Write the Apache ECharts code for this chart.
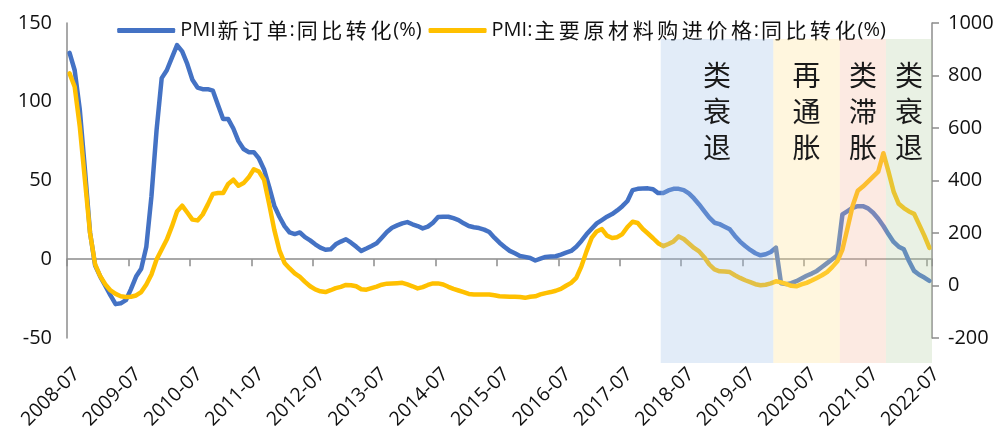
<!DOCTYPE html>
<html>
<head>
<meta charset="utf-8">
<script src="https://cdn.jsdelivr.net/npm/echarts@6/dist/echarts.min.js"></script>
<style>
html,body{margin:0;padding:0;background:#fff;}
#chart{width:1003px;height:432px;}
</style>
</head>
<body>
<div id="chart"></div>
<script>
// ---- data ----
const startYear = 2008, startMonth = 7, monthCount = 169; // 2008-07 .. 2022-07
const categories = [];
for (let k = 0; k < monthCount; k++) {
  const m = startMonth - 1 + k;
  const y = startYear + Math.floor(m / 12);
  const mm = (m % 12) + 1;
  categories.push(y + '-' + (mm < 10 ? '0' + mm : '' + mm));
}

const seriesNames = ['PMI新订单:同比转化(%)', 'PMI:主要原材料购进价格:同比转化(%)'];

// left axis
const newOrdersYoY = [
  131,120,95,57,17,-4,-11,-17,-23,-28.5,-28,-26,-19,-11,-6,8,40,82,115,120,
  128,136,132,124,114,109,108,108,107,98,89,89,83,75,70,68,68,64,57,46,
  34,27,21,17,16,17,14,12,9.5,7.4,6,6.3,9.5,11.2,12.7,10.5,8,5.3,6.8,8.4,
  10.1,13.7,17.3,20,21.5,22.8,23.6,22.2,21.1,19.6,20.7,23.2,26.8,27,27,26.1,24.9,22.8,21.1,20.3,
  19.8,18.8,17.3,13.7,10.5,7.8,5.3,3.8,2.1,1.5,0.8,-0.8,0.4,1.5,1.7,1.9,3,4.2,5.3,8,
  11.6,15.8,19.4,22.8,24.9,27,28.7,31,33.7,37,43.9,44.7,44.9,45,44.5,42,42,43.7,44.7,44.7,
  43.9,41.8,38.6,34.8,30.6,26.4,23.2,22.3,20.7,19,14.8,11.2,8.4,5.9,3.8,2.5,3.2,4.6,7.4,-15.2,
  -15.8,-15.2,-13.9,-12.2,-10.5,-9.1,-7.4,-4.9,-2.5,0,2.5,28.5,30.6,32.7,33.7,33.7,32.3,29.5,25.7,21.1,
  15.8,11,8,6.3,-1.1,-7.4,-9.9,-11.6,-13.7
];

// right axis
const rawPriceYoY = [
  808,757,605,403,200,80,35,4,-19,-32,-41,-44,-43,-38,-25,4,42,99,137,175,
  225,282,304,278,251,248,270,308,349,352,352,387,403,380,390,412,443,434,403,310,
  212,134,86,65,46,33,14,-3,-15,-22,-25,-18,-10,-5,2,1,-3,-14,-16,-10,
  -4,3,7,8,9,10,4,-3,-11,-6,2,8,8,4,-5,-13,-19,-25,-32,-34,
  -34,-34,-34,-37,-41,-42,-43,-43,-44,-47,-43,-41,-34,-29,-25,-20,-13,-1,10,29,
  73,130,181,206,215,190,181,184,196,223,243,238,215,198,180,161,150,158,168,187,
  177,160,143,130,108,80,61,54,53,51,39,29,20,13,5,1,3,8,16,12,
  6,-1,-3,4,10,19,29,39,51,70,92,137,219,304,361,377,396,415,434,504,
  434,358,311,295,282,273,232,190,143
];

const leftAxis = { min: -50, max: 150, interval: 50 };
const rightAxis = { min: -200, max: 1000, interval: 200 };

// phases: start month (inclusive) .. end month (exclusive, null = end of data)
const phaseLabels = ['类衰退', '再通胀', '类滞胀', '类衰退'];
const phaseStarts = ['2018-03', '2020-01', '2021-02', '2021-11'];
const phaseEnds   = ['2020-01', '2021-02', '2021-11', null];
const phaseColors = ['rgba(160,192,233,0.3)', 'rgba(255,226,146,0.3)', 'rgba(245,186,158,0.3)', 'rgba(182,209,164,0.3)'];

// ---- chart ----
const chart = echarts.init(document.getElementById('chart'), null, { renderer: 'canvas' });

const AXIS_GRAY = '#8c8c8c';
const TXT = '#111';

function richName(name) {
  let out = '';
  let latin = '';
  for (const ch of name) {
    if (/[\u4e00-\u9fff]/.test(ch)) {
      if (latin) { out += '{l|' + latin + '}'; latin = ''; }
      out += '{c|' + ch + '}';
    } else {
      latin += ch;
    }
  }
  if (latin) out += '{l|' + latin + '}';
  return out;
}

const areaData = phaseLabels.map((lab, k) => {
  const s = categories.indexOf(phaseStarts[k]);
  const e = phaseEnds[k] ? categories.indexOf(phaseEnds[k]) : categories.length;
  return [
    { name: lab.split('').join('\n'), xAxis: s, yAxis: 0, itemStyle: { color: phaseColors[k] } },
    { xAxis: e, yAxis: 1 }
  ];
});

const option = {
  animation: false,
  backgroundColor: '#fff',
  legend: {
    data: seriesNames,
    left: 'center',
    top: 15,
    itemGap: 7,
    itemWidth: 58,
    itemHeight: 5,
    icon: 'roundRect',
    formatter: richName,
    textStyle: {
      color: TXT,
      rich: {
        l: { fontFamily: 'Open Sans', fontSize: 20, color: TXT },
        c: { fontFamily: 'Noto Sans CJK SC', fontSize: 21, color: TXT, padding: [0, 1.8, 0, 1.8] }
      }
    }
  },
  grid: [
    { left: 67, right: 71, top: 23, bottom: 93, containLabel: false },
    { left: 67, right: 71, top: 39, bottom: 69, containLabel: false }
  ],
  xAxis: [
    {
      type: 'category', gridIndex: 0, data: categories, boundaryGap: true, position: 'bottom',
      axisLine: { show: false, onZero: false },
      axisTick: { show: false },
      axisLabel: {
        interval: 11, rotate: 45, align: 'right', verticalAlign: 'top', margin: 26,
        fontFamily: 'Open Sans', fontSize: 19.5, color: TXT
      },
      splitLine: { show: false }
    },
    {
      type: 'category', gridIndex: 0, data: categories, boundaryGap: true, position: 'bottom',
      axisLine: { show: true, onZero: true, onZeroAxisIndex: 0, lineStyle: { color: AXIS_GRAY, width: 1.5 } },
      axisTick: { show: true, interval: 11, alignWithLabel: false, length: 7, lineStyle: { color: AXIS_GRAY, width: 1.5 } },
      axisLabel: { show: false },
      splitLine: { show: false }
    },
    {
      type: 'value', gridIndex: 1, min: 0, max: monthCount, show: false
    }
  ],
  yAxis: [
    {
      type: 'value', gridIndex: 0, position: 'left',
      min: leftAxis.min, max: leftAxis.max, interval: leftAxis.interval,
      axisLine: { show: true, lineStyle: { color: AXIS_GRAY, width: 1.5 } },
      axisTick: { show: false },
      axisLabel: { margin: 15, fontFamily: 'Open Sans', fontSize: 20, color: TXT, formatter: v => String(v) },
      splitLine: { show: false }
    },
    {
      type: 'value', gridIndex: 0, position: 'right',
      min: rightAxis.min, max: rightAxis.max, interval: rightAxis.interval,
      axisLine: { show: true, lineStyle: { color: AXIS_GRAY, width: 1.5 } },
      axisTick: { show: true, length: 7, inside: false, lineStyle: { color: AXIS_GRAY, width: 1.5 } },
      axisLabel: { margin: 16, fontFamily: 'Open Sans', fontSize: 20, color: TXT, formatter: v => String(v) },
      splitLine: { show: false }
    },
    {
      type: 'value', gridIndex: 1, min: 0, max: 1, show: false
    }
  ],
  series: [
    {
      name: seriesNames[0], type: 'line', xAxisIndex: 0, yAxisIndex: 0,
      data: newOrdersYoY, symbol: 'none', showSymbol: false, z: 2,
      lineStyle: { color: '#4472C4', width: 4.5, cap: 'round', join: 'round' },
      itemStyle: { color: '#4472C4' }
    },
    {
      name: seriesNames[1], type: 'line', xAxisIndex: 0, yAxisIndex: 1,
      data: rawPriceYoY, symbol: 'none', showSymbol: false, z: 2,
      lineStyle: { color: '#FFC000', width: 4.5, cap: 'round', join: 'round' },
      itemStyle: { color: '#FFC000' }
    },
    {
      name: 'phases', type: 'line', xAxisIndex: 2, yAxisIndex: 2,
      data: [[0, 0]], symbol: 'none', showSymbol: false, z: 5,
      lineStyle: { width: 0, opacity: 0 },
      silent: true,
      markArea: {
        silent: true, z: 5,
        label: {
          show: true, position: 'insideTop', distance: 18,
          fontFamily: 'Noto Sans CJK SC', fontSize: 28, lineHeight: 36, color: '#1a1a1a'
        },
        data: areaData
      }
    }
  ]
};

chart.setOption(option);
</script>
</body>
</html>
